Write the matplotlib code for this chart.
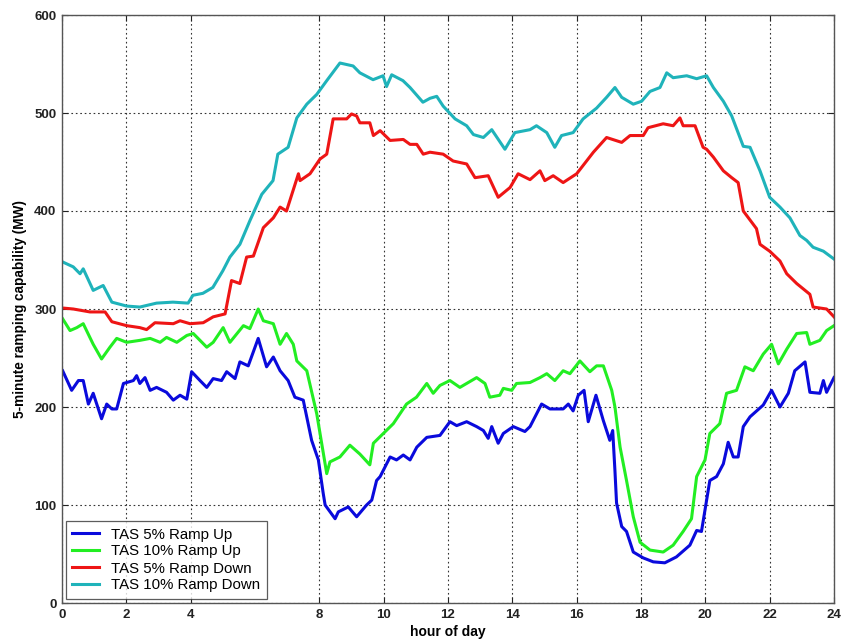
import matplotlib
matplotlib.use("Agg")
import matplotlib.pyplot as plt

# ---- data (hour of day, MW) ----
cyan_h = [0.02, 0.35, 0.56, 0.66, 0.97, 1.28, 1.55, 2.01, 2.42, 2.94, 3.45, 3.92, 4.07, 4.38, 4.69, 5.0, 5.22,
          5.53, 5.84, 6.21, 6.56, 6.71, 7.03, 7.30, 7.61, 7.92, 8.23, 8.64, 9.05, 9.26, 9.67, 9.98, 10.09, 10.25,
          10.60, 10.82, 11.22, 11.44, 11.65, 11.85, 12.22, 12.58, 12.79, 13.10, 13.36, 13.77, 14.08, 14.55, 14.75,
          15.07, 15.32, 15.53, 15.89, 16.2, 16.62, 16.93, 17.19, 17.4, 17.76, 18.02, 18.28, 18.59, 18.8, 19.0,
          19.42, 19.73, 20.04, 20.25, 20.56, 20.82, 21.18, 21.39, 21.7, 22.0, 22.32, 22.63, 22.94, 23.15, 23.35,
          23.67, 24.0]
cyan_v = [348, 343, 336, 341, 319, 324, 307, 303, 302, 306, 307, 306, 314, 316, 322, 339, 353,
          366, 390, 417, 431, 458, 465, 495, 509, 519, 533, 551, 548, 541, 534, 538, 527, 539,
          533, 526, 511, 515, 517, 507, 494, 487, 478, 475, 483, 463, 480, 483, 487,
          480, 465, 477, 480, 494, 505, 516, 526, 516, 509, 512, 522, 526, 541, 536,
          538, 535, 538, 526, 512, 497, 466, 465, 441, 414, 404, 393, 375, 370, 363,
          359, 351]

red_h = [0.02, 0.35, 0.87, 1.34, 1.55, 2.01, 2.42, 2.63, 2.89, 3.46, 3.67, 3.98, 4.39, 4.70, 5.07, 5.27, 5.53,
         5.74, 5.95, 6.26, 6.57, 6.78, 6.98, 7.35, 7.4, 7.71, 8.02, 8.23, 8.43, 8.85, 9.0, 9.16, 9.26, 9.57,
         9.68, 9.89, 10.2, 10.61, 10.82, 11.03, 11.23, 11.44, 11.85, 12.16, 12.58, 12.84, 13.25, 13.56, 13.93,
         14.18, 14.55, 14.86, 15.01, 15.27, 15.58, 16.0, 16.52, 16.93, 17.4, 17.66, 18.07, 18.22, 18.69, 19.0,
         19.21, 19.31, 19.68, 19.93, 20.04, 20.25, 20.56, 20.82, 21.02, 21.18, 21.59, 21.7, 22.0, 22.32, 22.53,
         22.84, 23.25, 23.35, 23.77, 24.0]
red_v = [301, 300, 297, 297, 287, 283, 281, 279, 286, 285, 288, 285, 286, 292, 295, 329, 326,
         353, 354, 383, 393, 404, 400, 438, 431, 438, 453, 458, 494, 494, 499, 497, 490, 490,
         477, 482, 472, 473, 468, 468, 458, 460, 458, 451, 448, 434, 436, 414, 424,
         438, 432, 441, 431, 436, 429, 438, 460, 475, 470, 477, 477, 485, 489, 487,
         495, 487, 487, 465, 463, 455, 441, 434, 429, 400, 382, 366, 359, 349, 336,
         326, 315, 302, 300, 292]

green_h = [0.02, 0.25, 0.46, 0.66, 0.97, 1.23, 1.49, 1.70, 2.01, 2.42, 2.74, 3.05, 3.25, 3.57, 3.88, 4.08, 4.50,
           4.70, 5.01, 5.22, 5.64, 5.84, 6.10, 6.26, 6.57, 6.78, 6.98, 7.19, 7.30, 7.61, 7.92, 8.23, 8.33, 8.64,
           8.95, 9.26, 9.57, 9.68, 9.99, 10.3, 10.71, 11.02, 11.34, 11.54, 11.75, 12.06, 12.37, 12.89, 13.15,
           13.30, 13.61, 13.72, 13.98, 14.13, 14.55, 14.86, 15.07, 15.32, 15.58, 15.79, 16.10, 16.41, 16.62,
           16.83, 17.09, 17.19, 17.35, 17.55, 17.76, 17.97, 18.28, 18.69, 19.0, 19.31, 19.57, 19.73, 19.99,
           20.14, 20.45, 20.66, 20.97, 21.23, 21.49, 21.8, 22.06, 22.27, 22.53, 22.84, 23.15, 23.25, 23.56,
           23.77, 24.0]
green_v = [290, 278, 281, 285, 264, 249, 261, 270, 266, 268, 270, 266, 271, 266, 273, 275, 261,
           266, 281, 266, 283, 280, 300, 288, 285, 264, 275, 264, 247, 237, 193, 132, 144, 149,
           161, 152, 141, 163, 173, 183, 203, 210, 224, 214, 222, 227, 220, 230, 224,
           210, 212, 219, 217, 224, 225, 230, 234, 227, 237, 234, 247, 236, 242,
           242, 217, 200, 159, 125, 88, 62, 54, 52, 59, 73, 86, 129, 146,
           173, 183, 214, 217, 241, 237, 254, 264, 244, 259, 275, 276, 264, 268,
           278, 283]

blue_h = [0.02, 0.3, 0.51, 0.66, 0.82, 0.97, 1.23, 1.39, 1.55, 1.70, 1.91, 2.22, 2.32, 2.42, 2.58, 2.74, 2.94,
          3.25, 3.46, 3.67, 3.88, 4.03, 4.29, 4.50, 4.70, 4.96, 5.12, 5.38, 5.53, 5.79, 6.10, 6.36, 6.57, 6.78,
          7.03, 7.24, 7.5, 7.76, 7.97, 8.12, 8.18, 8.49, 8.59, 8.90, 9.16, 9.47, 9.63, 9.78, 9.89, 10.2, 10.4,
          10.61, 10.82, 11.03, 11.34, 11.75, 12.06, 12.27, 12.58, 12.89, 13.10, 13.25, 13.36, 13.56, 13.72,
          14.03, 14.39, 14.55, 14.91, 15.17, 15.58, 15.74, 15.89, 16.05, 16.23, 16.36, 16.6, 16.83, 17.03,
          17.12, 17.19, 17.24, 17.4, 17.55, 17.76, 18.07, 18.38, 18.74, 19.10, 19.52, 19.73, 19.88, 19.99,
          20.14, 20.35, 20.56, 20.71, 20.87, 21.02, 21.18, 21.39, 21.8, 22.06, 22.32, 22.58, 22.78, 23.1,
          23.25, 23.56, 23.67, 23.77, 24.0]
blue_v = [237, 217, 227, 227, 203, 214, 188, 203, 198, 198, 224, 227, 232, 224, 230, 217, 220,
          215, 207, 212, 208, 236, 227, 220, 229, 227, 236, 229, 246, 242, 270, 241, 251, 237,
          227, 210, 207, 166, 146, 112, 100, 86, 93, 98, 88, 100, 105, 125, 129, 149, 146,
          151, 146, 159, 169, 171, 185, 181, 185, 180, 176, 168, 180, 163, 173,
          180, 175, 180, 203, 198, 198, 203, 196, 212, 217, 185, 212, 186, 166,
          176, 135, 102, 78, 73, 52, 46, 42, 41, 47, 59, 74, 73, 95,
          125, 129, 142, 164, 149, 149, 180, 190, 202, 217, 200, 214, 237, 246,
          215, 214, 227, 215, 230]

labels = ["TAS 5% Ramp Up", "TAS 10% Ramp Up", "TAS 5% Ramp Down", "TAS 10% Ramp Down"]
x_ticks = [0, 2, 4, 8, 10, 12, 14, 16, 18, 20, 22, 24]
y_ticks = [0, 100, 200, 300, 400, 500, 600]

plt.rcParams['font.family'] = ['Liberation Sans', 'DejaVu Sans']

fig = plt.figure(figsize=(8.45, 6.43), dpi=100)
ax = fig.add_axes([62/845, 40/643, 772/845, 588/643])

lw = 2.2
ax.plot(blue_h, blue_v, color='#0a0adc', lw=lw, label=labels[0])
ax.plot(green_h, green_v, color='#22ee22', lw=lw, label=labels[1])
ax.plot(red_h, red_v, color='#ee1515', lw=lw, label=labels[2])
ax.plot(cyan_h, cyan_v, color='#1fb3ba', lw=lw, label=labels[3])

ax.set_xlim(0, 24)
ax.set_ylim(0, 600)
ax.set_xticks(x_ticks)
ax.set_yticks(y_ticks)
ax.tick_params(direction='in', length=4, width=0.8, labelsize=9.5, colors='#222222',
               top=True, right=True, pad=4)
for lab in ax.get_xticklabels() + ax.get_yticklabels():
    lab.set_fontweight('bold')
ax.grid(True, linestyle=(0, (1.5, 2.5)), color='#333333', linewidth=0.8)
for s in ax.spines.values():
    s.set_color('#555555')
    s.set_linewidth(1.0)

ax.set_xlabel('hour of day', fontsize=10, fontweight='bold', labelpad=3)
ax.set_ylabel('5-minute ramping capability (MW)', fontsize=9.8, fontweight='bold', labelpad=5)

leg = ax.legend(loc='lower left', prop={'size': 10.8}, frameon=True, fancybox=False,
                handlelength=1.8, handletextpad=0.75, borderpad=0.45, labelspacing=0.2,
                borderaxespad=0.25)
leg.get_frame().set_edgecolor('#333333')
leg.get_frame().set_linewidth(0.9)

fig.savefig('out.png', dpi=100)
